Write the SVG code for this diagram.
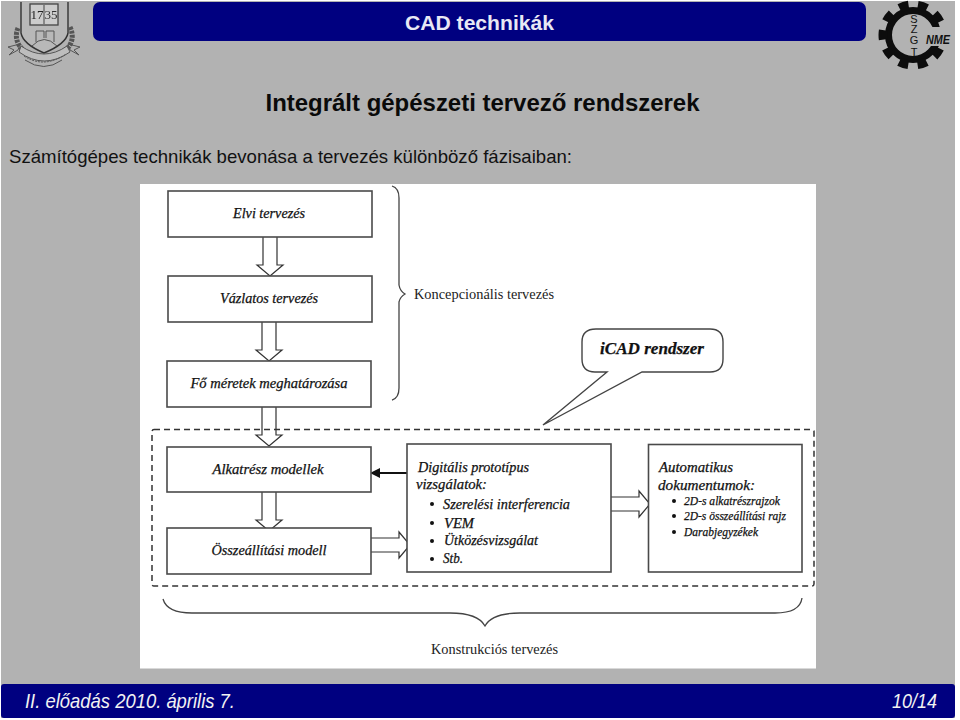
<svg xmlns="http://www.w3.org/2000/svg" width="960" height="720" viewBox="0 0 960 720">
<style>
.b{fill:#fff;stroke:#4a4a4a;stroke-width:1.6}
.a{fill:#fff;stroke:#333;stroke-width:1.2}
.l{fill:none;stroke:#444;stroke-width:1.3}
.t{font-family:"Liberation Serif",serif;font-style:italic;fill:#111;font-size:14px;stroke:#111;stroke-width:.25}
.c{text-anchor:middle}
.u{font-family:"Liberation Serif",serif;fill:#222;font-size:14px}
.s{font-family:"Liberation Sans",Arial,sans-serif}
.g{fill:none;stroke:#555;stroke-width:1}
</style>
<defs>
<path id="down" d="M-7 0V28H-13L0 39L13 28H7V0" class="a"/>
<path id="right" d="M0 -7H28V-13L39 0L28 13V7H0" class="a"/>
<filter id="soft"><feGaussianBlur stdDeviation="0.45"/></filter>
</defs>
<rect width="960" height="720" fill="#fff"/>
<rect x="1" y="1" width="954" height="717" fill="#b2b2b2"/>
<g id="header"><rect x="93" y="2" width="773" height="39" rx="7" fill="#000080"/>
<text x="479.500" y="30" class="s c" font-size="21" font-weight="bold" fill="#e8e8f4" textLength="149" lengthAdjust="spacingAndGlyphs">CAD technikák</text></g>
<g id="crest" filter="url(#soft)">
<path d="M21 2V33Q23 44 44 53Q66 44 68 33V2" fill="#b8b8b8" stroke="#333" stroke-width="1.4"/>
<rect x="30" y="4" width="28" height="21" fill="#ccc" stroke="#444" stroke-width="1.3"/>
<path d="M44 5V24" stroke="#444"/>
<text x="37" y="19" font-family="Liberation Serif,serif" font-size="13" text-anchor="middle" fill="#222">17</text>
<text x="51" y="19" font-family="Liberation Serif,serif" font-size="13" text-anchor="middle" fill="#333">35</text>
<path d="M36 42V31H44V38M46 38V31H54V42M32 46Q44 33 57 46" class="g" stroke-width="1.5"/>
<path d="M18 28Q13 40 23 50M70 27Q76 40 66 50" fill="none" stroke="#555" stroke-width="5" stroke-dasharray="3 1"/>
<path d="M8 47L20 44L18 50L9 55L14 50ZM80 47L68 44L70 50L79 55L74 50Z" class="g"/>
<path d="M19 52Q44 70 70 52L67 46Q44 62 21 46Z" fill="#bdbdbd" stroke="#555"/>
<path d="M25 60Q44 73 62 60" class="g"/>
<path d="M24 56Q44 69 66 54" fill="none" stroke="#555" stroke-dasharray="2 1"/>
</g>
<g id="gear">
<circle cx="913" cy="35" r="24.500" fill="none" stroke="#0d0d0d" stroke-width="7"/>
<circle cx="913" cy="35" r="30" fill="none" stroke="#0d0d0d" stroke-width="9" stroke-dasharray="9.500 9.350" stroke-dashoffset="4.750"/>
<rect x="926" y="27" width="27" height="19" fill="#b2b2b2"/>
<g class="s" font-size="11" fill="#111" text-anchor="middle">
<text x="914" y="22.500">S</text><text x="914" y="33">Z</text><text x="914" y="44">G</text><text x="914" y="55.500">T</text></g>
<text x="926" y="44" class="s" font-size="12" font-weight="bold" font-style="italic" fill="#111" textLength="24" lengthAdjust="spacingAndGlyphs">NME</text>
</g>
<text id="title" x="482.500" y="111" class="s c" font-size="24" font-weight="bold" fill="#0a0a0a" textLength="434" lengthAdjust="spacingAndGlyphs">Integrált gépészeti tervező rendszerek</text>
<text id="subtitle" x="9" y="163" class="s" font-size="19" fill="#111" textLength="563" lengthAdjust="spacingAndGlyphs">Számítógépes technikák bevonása a tervezés különböző fázisaiban:</text>
<rect id="panel" x="140" y="184" width="676" height="484.500" fill="#fff"/>
<g id="connectors">
<use href="#down" x="270" y="237"/>
<use href="#down" x="269" y="322"/>
<use href="#down" x="269" y="407"/>
<use href="#down" x="269" y="492"/>
<use href="#right" x="371" y="545"/>
<use href="#right" x="611" y="504"/>
<path d="M407 473H378" stroke="#111" stroke-width="2" fill="none"/>
<path d="M370 473L380 468V478Z" fill="#111"/>
<path d="M392 186Q399 188 399 198V285Q400 291 405 294Q400 297 399 302V388Q399 398 392 400" class="l"/>
<path d="M163 599Q167 613 192 613H450Q478 613 485 626Q492 613 520 613H775Q800 613 802 598" class="l"/>
</g>
<rect id="region" x="152" y="429.500" width="662" height="156.500" rx="2" fill="none" stroke="#333" stroke-width="1.500" stroke-dasharray="6 4"/>
<g id="n1"><rect class="b" x="168" y="191" width="204" height="46"/><text x="269" y="218" class="t c" textLength="72" lengthAdjust="spacingAndGlyphs">Elvi tervezés</text></g>
<g id="n2"><rect class="b" x="168" y="276" width="204" height="46"/><text x="269" y="303" class="t c" textLength="98" lengthAdjust="spacingAndGlyphs">Vázlatos tervezés</text></g>
<g id="n3"><rect class="b" x="167" y="361" width="204" height="46"/><text x="269" y="388" class="t c" textLength="157" lengthAdjust="spacingAndGlyphs">Fő méretek meghatározása</text></g>
<g id="n4"><rect class="b" x="167" y="447" width="204" height="45"/><text x="268" y="474" class="t c" textLength="111" lengthAdjust="spacingAndGlyphs">Alkatrész modellek</text></g>
<g id="n5"><rect class="b" x="167" y="528" width="204" height="46"/><text x="269" y="555" class="t c" textLength="115" lengthAdjust="spacingAndGlyphs">Összeállítási modell</text></g>
<g id="n6"><rect class="b" x="407" y="444" width="204" height="128"/>
<text x="418" y="472" class="t" textLength="111" lengthAdjust="spacingAndGlyphs">Digitális prototípus</text>
<text x="416" y="489" class="t" textLength="71" lengthAdjust="spacingAndGlyphs">vizsgálatok:</text>
<circle cx="432" cy="504" r="2" fill="#111"/><text x="443" y="509" class="t" textLength="127" lengthAdjust="spacingAndGlyphs">Szerelési interferencia</text>
<circle cx="432" cy="523" r="2" fill="#111"/><text x="444" y="528" class="t" textLength="30" lengthAdjust="spacingAndGlyphs">VEM</text>
<circle cx="432" cy="541" r="2" fill="#111"/><text x="444" y="545" class="t" textLength="94" lengthAdjust="spacingAndGlyphs">Ütközésvizsgálat</text>
<circle cx="432" cy="559" r="2" fill="#111"/><text x="443" y="563" class="t" textLength="20" lengthAdjust="spacingAndGlyphs">Stb.</text></g>
<g id="n7"><rect class="b" x="648.500" y="444.500" width="153.500" height="127.500"/>
<text x="659" y="472" class="t" textLength="74" lengthAdjust="spacingAndGlyphs">Automatikus</text>
<text x="658" y="490" class="t" textLength="97" lengthAdjust="spacingAndGlyphs">dokumentumok:</text>
<circle cx="674" cy="501" r="2" fill="#111"/><text x="684" y="505" class="t" style="font-size:12px" textLength="96" lengthAdjust="spacingAndGlyphs">2D-s alkatrészrajzok</text>
<circle cx="674" cy="516" r="2" fill="#111"/><text x="684" y="520" class="t" style="font-size:12px" textLength="102" lengthAdjust="spacingAndGlyphs">2D-s összeállítási rajz</text>
<circle cx="674" cy="532" r="2" fill="#111"/><text x="684" y="536" class="t" style="font-size:12px" textLength="74" lengthAdjust="spacingAndGlyphs">Darabjegyzékek</text></g>
<g id="callout"><path d="M596 329H710Q723 329 723 342V359Q723 372 710 372H642L543 425L607 372H595Q582 372 582 359V342Q582 329 596 329Z" fill="#fff" stroke="#444" stroke-width="1.400"/>
<text x="652" y="354" class="t c" style="font-size:16px" font-weight="bold" textLength="104" lengthAdjust="spacingAndGlyphs">iCAD rendszer</text></g>
<text id="lab1" x="414" y="299" class="u" textLength="140" lengthAdjust="spacingAndGlyphs">Koncepcionális tervezés</text>
<text id="lab2" x="431" y="654" class="u" textLength="127" lengthAdjust="spacingAndGlyphs">Konstrukciós tervezés</text>
<g id="footer"><rect x="1" y="684" width="954" height="34" rx="3" fill="#000080"/>
<g class="s" font-size="21" font-style="italic" fill="#f2f2f2"><text x="25" y="708" textLength="210" lengthAdjust="spacingAndGlyphs">II. előadás 2010. április 7.</text>
<text x="937" y="708" text-anchor="end" textLength="45" lengthAdjust="spacingAndGlyphs">10/14</text></g></g>
</svg>
